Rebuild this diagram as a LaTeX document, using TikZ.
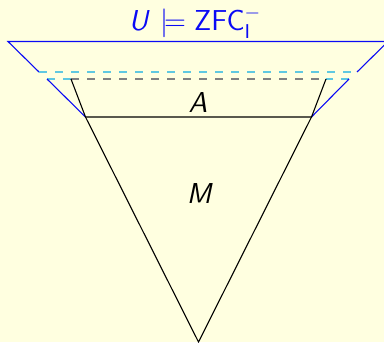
\documentclass[tikz,border=0pt]{standalone}
\usepackage{amsmath,amssymb}
\usetikzlibrary{backgrounds}
\definecolor{slidebg}{RGB}{255,255,224}
\definecolor{ublue}{RGB}{10,10,245}
\definecolor{ucyan}{RGB}{95,200,225}

\begin{document}
\begin{tikzpicture}[x=0.5pt, y=-0.5pt, line width=0.55pt,
    ubound/.style={ublue},
    ucut/.style={ucyan, dash pattern=on 4pt off 4pt},
    acut/.style={gray, dash pattern=on 4pt off 4pt},
    lbl/.style={font=\sffamily\fontsize{14.4}{17}\selectfont, anchor=base, inner sep=0pt}]
    \fill[slidebg] (0,0) rectangle (384,342);
    \useasboundingbox (0,0) rectangle (384,342);
    \clip (0,0) rectangle (384,342);

    % U: outer band
    \coordinate (U1) at (8,41.5);
    \coordinate (U2) at (388,41.5);
    \coordinate (U3) at (357,72);
    \coordinate (U4) at (39,72);
    \coordinate (V1) at (47,79);
    \coordinate (V2) at (349,79);
    % A and M
    \coordinate (A1) at (71,79);
    \coordinate (A2) at (326,79);
    \coordinate (B1) at (85.5,117);
    \coordinate (B2) at (311.5,117);
    \coordinate (apex) at (198.5,342);

    \draw[ubound] (U4) -- (U1) -- (U2) -- (U3);
    \draw[ucut] (U4) -- (U3);
    \draw[ucut] (V1) -- (A1);
    \draw[ucut] (V2) -- (A2);
    \draw[ubound] (V1) -- (B1);
    \draw[ubound] (V2) -- (B2);
    \draw[acut] (A1) -- (A2);
    \draw (A1) -- (B1) -- (B2) -- (A2);
    \draw (B1) -- (apex) -- (B2);

    \node[lbl, ublue] (ulabel) at (195,31) {$\textit{U}\,\models \text{ZFC}^{-}_{\text{I}}$};
    \node[lbl] (alabel) at (198,112) {$\textit{A}$};
    \node[lbl] (mlabel) at (199,203) {$\textit{M}$};
\end{tikzpicture}
\end{document}
